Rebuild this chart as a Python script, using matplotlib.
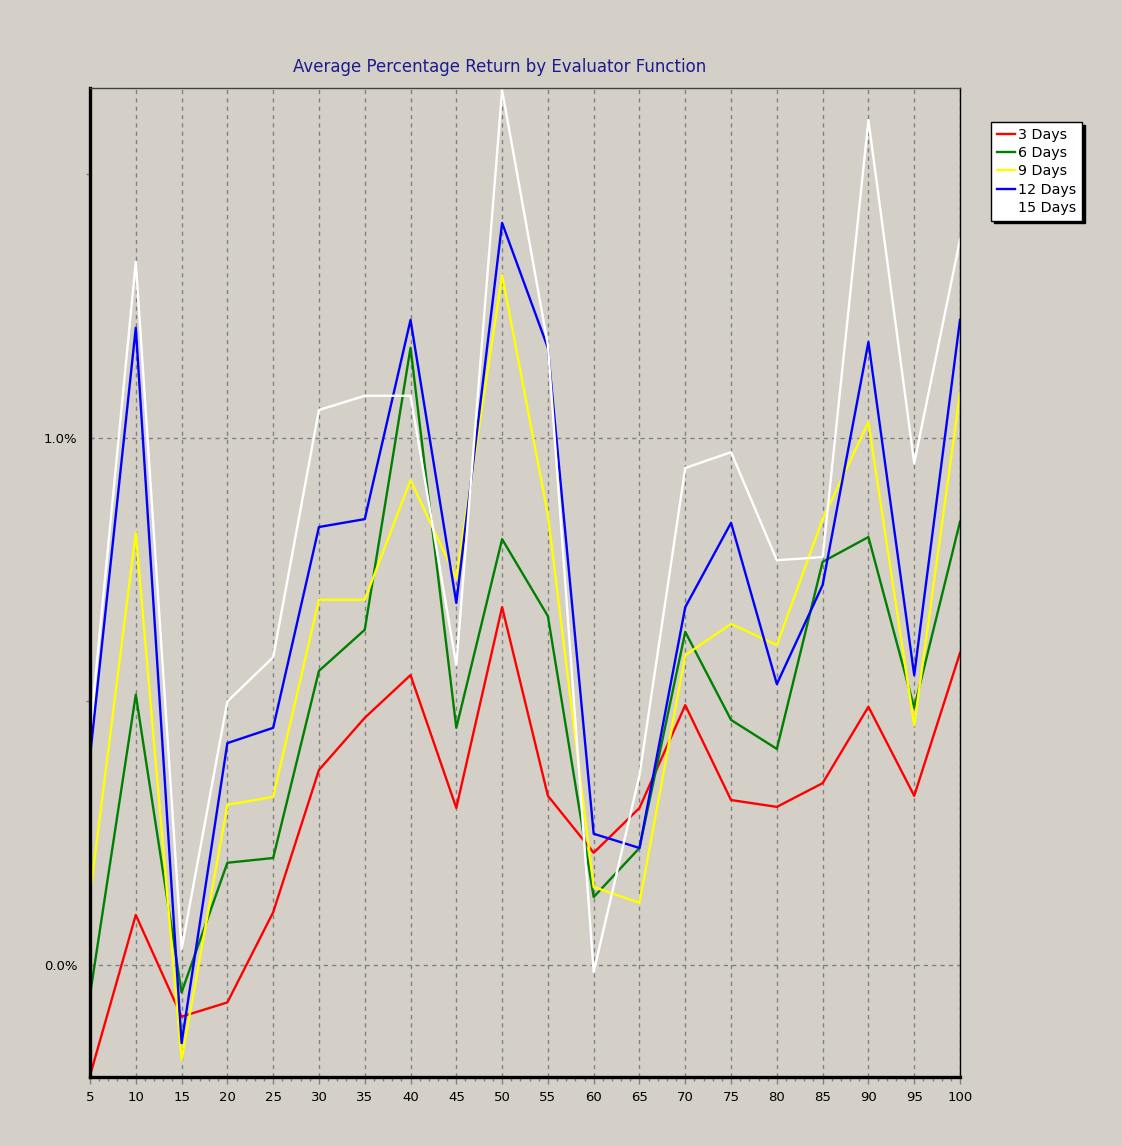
import numpy as np
import matplotlib.pyplot as plt
from matplotlib.ticker import MultipleLocator, FuncFormatter

# evaluator function values
functions = [5, 10, 15, 20, 25, 30, 35, 40, 45, 50, 55, 60, 65, 70, 75, 80, 85, 90, 95, 100]

# average percentage return per holding period
days_3 = [-0.21, 0.095, -0.098, -0.071, 0.10, 0.37, 0.469, 0.55, 0.298, 0.679,
          0.321, 0.213, 0.298, 0.493, 0.313, 0.300, 0.345, 0.49, 0.321, 0.592]
days_6 = [-0.057, 0.513, -0.052, 0.194, 0.203, 0.558, 0.636, 1.171, 0.450, 0.808,
          0.662, 0.129, 0.222, 0.632, 0.465, 0.41, 0.765, 0.812, 0.488, 0.841]
days_9 = [0.133, 0.82, -0.18, 0.304, 0.319, 0.693, 0.693, 0.92, 0.734, 1.309,
          0.854, 0.148, 0.118, 0.588, 0.647, 0.607, 0.846, 1.03, 0.455, 1.085]
days_12 = [0.395, 1.209, -0.148, 0.421, 0.450, 0.831, 0.846, 1.224, 0.687, 1.408,
           1.171, 0.249, 0.222, 0.679, 0.839, 0.533, 0.721, 1.182, 0.55, 1.224]
days_15 = [0.44, 1.334, 0.03, 0.50, 0.584, 1.053, 1.08, 1.08, 0.569, 1.66,
           1.176, -0.013, 0.36, 0.943, 0.973, 0.768, 0.774, 1.603, 0.952, 1.376]

series = [("3 Days", days_3, "#ff0000"),
          ("6 Days", days_6, "#008000"),
          ("9 Days", days_9, "#ffff00"),
          ("12 Days", days_12, "#0000ff"),
          ("15 Days", days_15, "#ffffff")]

bg = "#d4d0c8"
plt.rcParams['font.family'] = ['DejaVu Sans']

fig = plt.figure(figsize=(11.22, 11.46), dpi=100, facecolor=bg)
ax = fig.add_axes([90 / 1122, 1 - 1077 / 1146, 870 / 1122, 989 / 1146])
ax.set_facecolor(bg)

for name, vals, col in series:
    ax.plot(functions, vals, color=col, lw=1.7, label=name)

ax.set_xlim(5, 100)
ax.set_ylim(-0.2125, 1.664)

ax.xaxis.set_major_locator(MultipleLocator(5))
ax.xaxis.set_minor_locator(MultipleLocator(1))
ax.yaxis.set_major_locator(MultipleLocator(1.0))
ax.yaxis.set_minor_locator(MultipleLocator(0.5))
ax.yaxis.set_major_formatter(FuncFormatter(lambda v, p: "%.1f%%" % v))

ax.grid(True, which='major', color='#808080', linestyle=(0, (3, 3)), lw=1)
ax.set_axisbelow(True)

ax.tick_params(axis='both', which='major', labelsize=9.5, length=5, width=1,
               color='#808080', pad=5)
ax.tick_params(axis='both', which='minor', length=3, width=1, color='#808080')
ax.tick_params(axis='y', which='major', length=0, pad=9)

ax.spines['left'].set_linewidth(2.4)
ax.spines['bottom'].set_linewidth(2.4)
ax.spines['top'].set_linewidth(1)
ax.spines['top'].set_color('#404040')
ax.spines['right'].set_linewidth(1)

fig.text(0.445, 1 - 67 / 1146, "Average Percentage Return by Evaluator Function",
         ha='center', va='center', color='#1c1c8c', fontsize=12)

leg = fig.legend(loc='upper left', bbox_to_anchor=(991 / 1122, 1 - 122 / 1146),
                 fontsize=10.3, frameon=True, fancybox=False,
                 shadow={'color': 'black', 'alpha': 1},
                 handlelength=1.3, handletextpad=0.2, labelspacing=0.3,
                 borderpad=0.4, borderaxespad=0)
leg.get_frame().set_edgecolor('black')
leg.get_frame().set_facecolor('white')
leg.get_frame().set_linewidth(1)

fig.savefig("out.png", dpi=100, facecolor=bg)
